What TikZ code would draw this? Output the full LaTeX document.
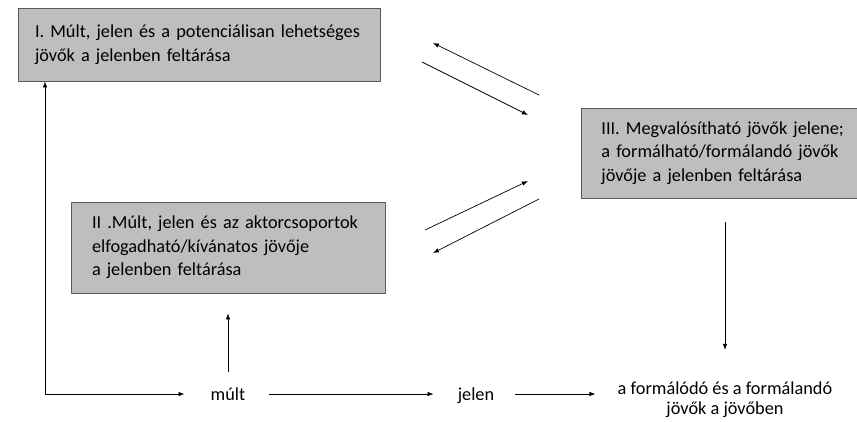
\documentclass[tikz,border=0pt]{standalone}
\usepackage{fontspec}
\setmainfont{Carlito}
\usetikzlibrary{arrows.meta,positioning,calc}

\definecolor{boxfill}{RGB}{190,190,190}
\definecolor{boxline}{RGB}{90,90,90}

\begin{document}
\begin{tikzpicture}[x=1pt,y=-1pt]

        \useasboundingbox (0,0) rectangle (857,421);

        % Common looks of the boxes and the arrows
        \tikzset{
            phase/.style={draw=boxline, line width=0.8pt, fill=boxfill,
                align=left, inner ysep=0pt, font=\fontsize{18.3}{23.5}\selectfont},
            lbl/.style={font=\fontsize{18.3}{20}\selectfont, align=center, inner sep=0pt},
            arr/.style={-{Latex[length=6pt,width=4.5pt]}, line width=0.7pt}
        }

        % Scope used for the three boxes
        \begin{scope}
            \node[phase, minimum width=362, minimum height=73,
                text width=328, inner xsep=17] (P1) at (199, 44.5)
            {I. Múlt, jelen és a potenciálisan lehetséges\\
             jövők a jelenben feltárása};
            \node[phase, minimum width=314, minimum height=91,
                text width=272, inner xsep=21] (P2) at (228, 247.5)
            {II .Múlt, jelen és az aktorcsoportok\\
             elfogadható/kívánatos jövője\\
             a jelenben feltárása};
            % right border lies beyond the page edge
            \node[phase, minimum width=285, minimum height=90,
                text width=265, inner xsep=20, anchor=west] (P3) at (581, 153)
            {III. Megvalósítható jövők jelene;\\
             a formálható/formálandó jövők\\
             jövője a jelenben feltárása};
        \end{scope}

        % Time line at the bottom
        \coordinate (Corner) at (45, 394);
        \node[lbl, anchor=base] (Past) at (228, 400) {múlt};
        \node[lbl, anchor=base] (Now) at (476, 400) {jelen};
        \node[lbl] (Future) at (725, 400)
        {a formálódó és a formálandó\\ jövők a jövőben};

        % Free ends of the slanted arrows
        \coordinate (A1) at (539, 95);
        \coordinate (A2) at (433, 43);
        \coordinate (B1) at (422, 62);
        \coordinate (B2) at (528, 115);
        \coordinate (C1) at (425, 230);
        \coordinate (C2) at (528, 181);
        \coordinate (D1) at (539, 199);
        \coordinate (D2) at (433, 253);

        \begin{scope}[arr]
            \draw (Corner) -- (Corner |- P1.south);
            \draw (Corner) -- ($(Past.west |- Corner)+(-26,0)$);
            \draw ($(Past.east |- Corner)+(24,0)$) -- ($(Now.west |- Corner)+(-24,0)$);
            \draw ($(Now.east |- Corner)+(21,0)$) -- ($(Now.east |- Corner)+(101,0)$);
            \draw ($(Past.north)+(0,-15)$) -- ($(P2.south -| Past.north)+(0,20)$);
            \draw ($(P3.south -| Future.north)+(0,24)$) -- ($(Future.north)+(0,-32)$);
            \draw (A1) -- (A2);
            \draw (B1) -- (B2);
            \draw (C1) -- (C2);
            \draw (D1) -- (D2);
        \end{scope}

\end{tikzpicture}
\end{document}
